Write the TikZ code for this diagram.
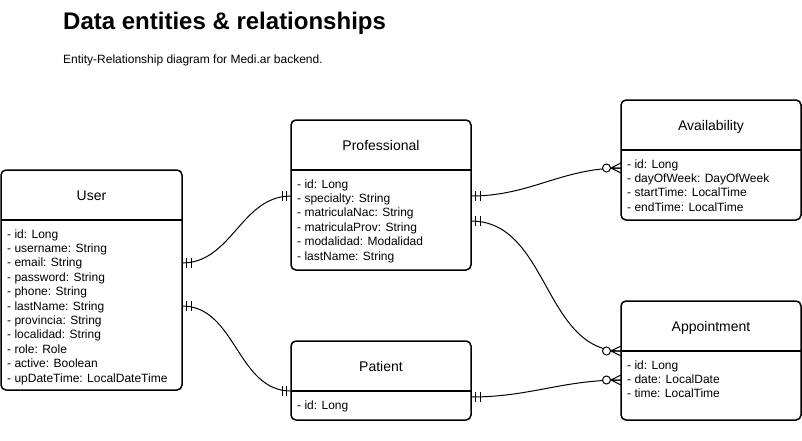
\documentclass[tikz,border=0pt]{standalone}
\usepackage{fontspec}
\setmainfont{Liberation Sans}
\usetikzlibrary{calc}

\tikzset{
  entity/.style={draw, line width=1.5pt, rounded corners=5pt, anchor=north west, inner sep=0pt, outer sep=0pt},
  etitle/.style={anchor=base, inner sep=0pt, font=\fontsize{14}{16}\selectfont},
  eattr/.style={anchor=base west, inner sep=0pt, font=\fontsize{12}{14}\selectfont},
  rel/.style={line width=1pt},
  one/.pic={\draw[rel] (4.5,-5) -- (4.5,5) (9,-5) -- (9,5);},
  many/.pic={\draw[rel] (0,-5) -- (-10,0) -- (0,5) (0,0) -- (-10,0);
             \draw[rel,fill=white] (-14.5,0) circle (4pt);},
}

\begin{document}
\begin{tikzpicture}[x=1pt, y=-1pt]
\useasboundingbox (0,0) rectangle (802,440);

% Heading
\node[anchor=base west, inner sep=0pt, font=\fontsize{24}{28}\selectfont\bfseries] (heading) at (63,29) {Data entities \& relationships};
\node[anchor=base west, inner sep=0pt, font=\fontsize{12}{14}\selectfont] (subheading) at (63,63) {Entity-Relationship diagram for Medi.ar backend.};

% Entities
\node[entity, minimum width=181pt, minimum height=220pt] (user) at (1,170) {};
\node[entity, minimum width=180pt, minimum height=150pt] (prof) at (291,120) {};
\node[entity, minimum width=180pt, minimum height=79pt] (pat) at (291,341) {};
\node[entity, minimum width=180pt, minimum height=120pt] (avail) at (621,100) {};
\node[entity, minimum width=180pt, minimum height=119pt] (appt) at (621,301) {};

\foreach \e/\t in {user/User, prof/Professional, pat/Patient, avail/Availability, appt/Appointment} {
  \node[etitle] (\e-title) at ([shift={(0,30)}]\e.north) {\t};
  \draw[line width=1.5pt] ([shift={(0,50)}]\e.north west) -- ([shift={(0,50)}]\e.north east);
}

% Attributes
\foreach \a [count=\i] in {id: Long, username: String, email: String, password: String, phone: String, lastName: String, provincia: String, localidad: String, role: Role, active: Boolean, upDateTime: LocalDateTime}
  \node[eattr] (user-\i) at ([shift={(6,{53.6+\i*14.4})}]user.north west) {- \a};
\foreach \a [count=\i] in {id: Long, specialty: String, matriculaNac: String, matriculaProv: String, modalidad: Modalidad, lastName: String}
  \node[eattr] (prof-\i) at ([shift={(6,{53.6+\i*14.4})}]prof.north west) {- \a};
\foreach \a [count=\i] in {id: Long}
  \node[eattr] (pat-\i) at ([shift={(6,{53.6+\i*14.4})}]pat.north west) {- \a};
\foreach \a [count=\i] in {id: Long, dayOfWeek: DayOfWeek, startTime: LocalTime, endTime: LocalTime}
  \node[eattr] (avail-\i) at ([shift={(6,{53.6+\i*14.4})}]avail.north west) {- \a};
\foreach \a [count=\i] in {id: Long, date: LocalDate, time: LocalTime}
  \node[eattr] (appt-\i) at ([shift={(6,{53.6+\i*14.4})}]appt.north west) {- \a};

% Relationships
\coordinate (user-to-prof) at ([shift={(0,93)}]user.north east);
\coordinate (user-to-pat) at ([shift={(0,136)}]user.north east);
\coordinate (prof-to-user) at ([shift={(0,76)}]prof.north west);
\coordinate (prof-to-avail) at ([shift={(0,76)}]prof.north east);
\coordinate (prof-to-appt) at ([shift={(0,101)}]prof.north east);
\coordinate (pat-to-user) at ([shift={(0,50)}]pat.north west);
\coordinate (pat-to-appt) at ([shift={(0,56)}]pat.north east);
\coordinate (avail-to-prof) at ([shift={(0,68)}]avail.north west);
\coordinate (appt-to-prof) at ([shift={(0,50)}]appt.north west);
\coordinate (appt-to-pat) at ([shift={(0,79)}]appt.north west);

\draw[rel] (user-to-prof) to[out=0, in=180] (prof-to-user);
\draw[rel] (user-to-pat) to[out=0, in=180] (pat-to-user);
\draw[rel] (prof-to-avail) to[out=0, in=180] (avail-to-prof);
\draw[rel] (prof-to-appt) to[out=0, in=180] (appt-to-prof);
\draw[rel] (pat-to-appt) to[out=0, in=180] (appt-to-pat);

\pic at (user-to-prof) {one};
\pic at (user-to-pat) {one};
\pic at (prof-to-avail) {one};
\pic at (prof-to-appt) {one};
\pic at (pat-to-appt) {one};
\pic[xscale=-1] at (prof-to-user) {one};
\pic[xscale=-1] at (pat-to-user) {one};
\pic at (avail-to-prof) {many};
\pic at (appt-to-prof) {many};
\pic at (appt-to-pat) {many};
\end{tikzpicture}
\end{document}
